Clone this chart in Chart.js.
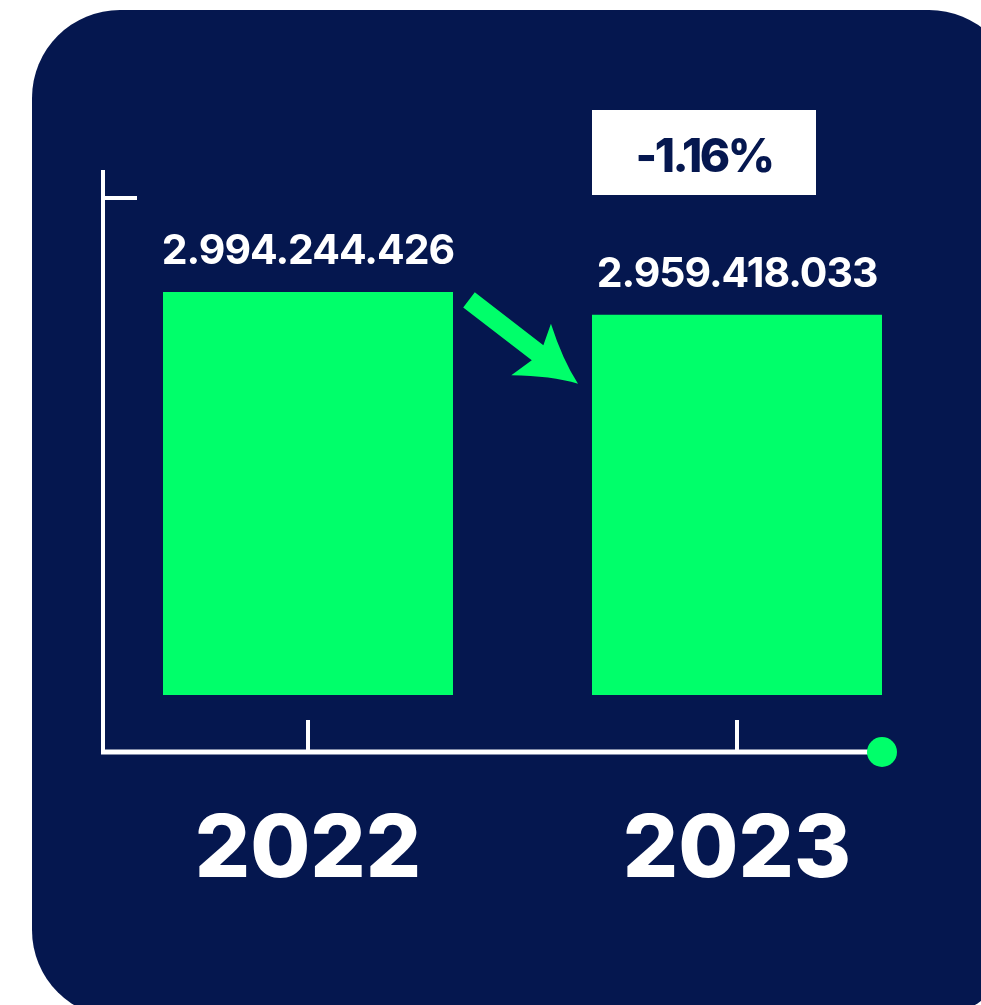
<!DOCTYPE html>
<html>
<head>
<meta charset="utf-8">
<script src="https://cdn.jsdelivr.net/npm/chart.js@4.4.1/dist/chart.umd.min.js"></script>
<style>
  html, body { margin: 0; padding: 0; background: #fff; overflow: hidden; }
  .card {
    position: absolute; left: 32px; top: 10px; width: 985px; height: 1008px;
    background: #05174f; border-radius: 88px;
  }
  #wrap { position: absolute; left: 0; top: 0; width: 981px; height: 1005px; }
</style>
</head>
<body>
<div class="card"></div>
<div id="wrap"><canvas id="chart"></canvas></div>
<script>
// Données
const years  = ['2022', '2023'];
const values = [2994244426, 2959418033];
const yMin = 2380000000;
const yMax = 3180000000;

const NAVY  = '#05174f';
const GREEN = '#00ff6a';
const WHITE = '#ffffff';

// format 2.994.244.426
const fmt = v => String(v).replace(/\B(?=(\d{3})+(?!\d))/g, '.');
const pct = ((values[1] - values[0]) / values[0] * 100).toFixed(2) + '%';

/** Axes, flèche, étiquettes et encadré de variation */
const decor = {
  id: 'decor',
  afterDatasetsDraw(chart) {
    const ctx = chart.ctx;
    const area = chart.chartArea;
    const bars = chart.getDatasetMeta(0).data;
    const b1 = bars[0], b2 = bars[1];
    const b1l = b1.x - b1.width / 2, b1r = b1.x + b1.width / 2;
    const b2l = b2.x - b2.width / 2, b2r = b2.x + b2.width / 2;
    const axisX = b1l - 60;
    const axisY = area.bottom + 57;

    ctx.save();
    ctx.strokeStyle = WHITE;
    ctx.lineCap = 'butt';

    // axe vertical + petit repère
    ctx.lineWidth = 4;
    ctx.beginPath();
    ctx.moveTo(axisX, area.top);
    ctx.lineTo(axisX, axisY);
    ctx.moveTo(axisX, area.top + 28);
    ctx.lineTo(axisX + 34, area.top + 28);
    ctx.stroke();

    // axe horizontal
    ctx.lineWidth = 5;
    ctx.beginPath();
    ctx.moveTo(axisX - 2, axisY);
    ctx.lineTo(b2r, axisY);
    ctx.stroke();

    // graduations au centre des catégories
    ctx.lineWidth = 4;
    ctx.beginPath();
    bars.forEach(b => { ctx.moveTo(b.x, axisY); ctx.lineTo(b.x, axisY - 32); });
    ctx.stroke();

    // point final
    ctx.fillStyle = GREEN;
    ctx.beginPath();
    ctx.arc(b2r, axisY, 15, 0, Math.PI * 2);
    ctx.fill();

    // valeurs au-dessus des barres
    ctx.fillStyle = WHITE;
    ctx.font = '700 41px Inter, "Open Sans", sans-serif';
    ctx.letterSpacing = '-1px';
    ctx.textAlign = 'center';
    ctx.textBaseline = 'alphabetic';
    bars.forEach((b, i) => ctx.fillText(fmt(values[i]), b.x, b.y - 28));

    // encadré variation
    const boxW = 224, boxH = 85, boxTop = area.top - 60;
    ctx.fillStyle = WHITE;
    ctx.fillRect(b2l, boxTop, boxW, boxH);
    ctx.fillStyle = NAVY;
    ctx.font = '800 46px Inter, "Open Sans", sans-serif';
    ctx.letterSpacing = '-2.5px';
    ctx.fillText(pct, b2l + boxW / 2, boxTop + 62);
    ctx.letterSpacing = '0px';

    // flèche entre les deux barres
    const sx = b1r + 16, sy = b1.y + 8;
    const tx = b2l - 14, ty = b2.y + 69;
    const L = Math.hypot(tx - sx, ty - sy);
    ctx.translate(sx, sy);
    ctx.rotate(Math.atan2(ty - sy, tx - sx));
    ctx.fillStyle = GREEN;
    ctx.beginPath();
    ctx.moveTo(0, -9.5);
    ctx.lineTo(L - 51, -9.5);
    ctx.lineTo(L - 58, -31);
    ctx.quadraticCurveTo(L - 26, -9, L, 0);
    ctx.quadraticCurveTo(L - 26, 10, L - 58, 34);
    ctx.lineTo(L - 51, 9.5);
    ctx.lineTo(0, 9.5);
    ctx.closePath();
    ctx.fill();
    ctx.restore();
  }
};

new Chart(document.getElementById('chart'), {
  type: 'bar',
  data: {
    labels: years,
    datasets: [{
      data: values,
      backgroundColor: GREEN,
      borderWidth: 0,
      categoryPercentage: 1,
      barPercentage: 0.676
    }]
  },
  options: {
    responsive: true, maintainAspectRatio: false,
    animation: false,
    layout: { padding: { left: 93.5, right: 29.5, top: 170, bottom: 0 } },
    plugins: { legend: { display: false }, tooltip: { enabled: false } },
    scales: {
      x: {
        grid: { display: false },
        border: { display: false },
        ticks: {
          color: WHITE,
          padding: 96,
          font: { family: 'Inter, "Open Sans", sans-serif', size: 87, weight: '800' }
        },
        afterFit: s => { s.height = 310; }
      },
      y: { display: false, min: yMin, max: yMax }
    }
  },
  plugins: [decor]
});
</script>
</body>
</html>
